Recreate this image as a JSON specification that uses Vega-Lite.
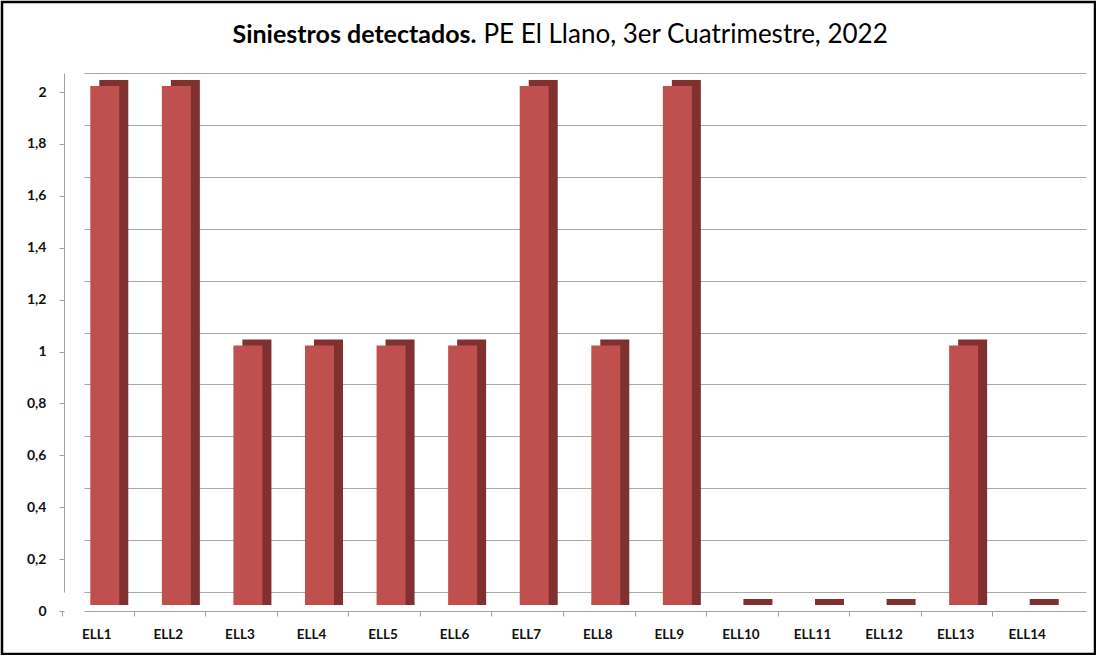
{
  "$schema": "https://vega.github.io/schema/vega-lite/v6.json",
  "width": 1093,
  "height": 652,
  "autosize": "none",
  "padding": {"left": 2, "top": 2, "right": 1, "bottom": 1},
  "background": "white",
  "config": {
    "view": {"stroke": "black", "strokeWidth": 2.5},
    "font": "Lato"
  },
  "data": {
    "values": [
      {"estacion": "ELL1", "siniestros": 2},
      {"estacion": "ELL2", "siniestros": 2},
      {"estacion": "ELL3", "siniestros": 1},
      {"estacion": "ELL4", "siniestros": 1},
      {"estacion": "ELL5", "siniestros": 1},
      {"estacion": "ELL6", "siniestros": 1},
      {"estacion": "ELL7", "siniestros": 2},
      {"estacion": "ELL8", "siniestros": 1},
      {"estacion": "ELL9", "siniestros": 2},
      {"estacion": "ELL10", "siniestros": 0},
      {"estacion": "ELL11", "siniestros": 0},
      {"estacion": "ELL12", "siniestros": 0},
      {"estacion": "ELL13", "siniestros": 1},
      {"estacion": "ELL14", "siniestros": 0}
    ]
  },
  "layer": [
    {
      "mark": {"type": "bar", "width": 29, "xOffset": -6, "yOffset": 7, "y2Offset": 13, "color": "#80302E"},
      "encoding": {
        "x": {
          "field": "estacion", "type": "nominal", "sort": null,
          "scale": {"range": [82, 1084], "paddingInner": 0, "paddingOuter": 0},
          "axis": {
            "orient": "top", "labels": false, "ticks": false, "domain": false, "grid": false,
            "title": "PE El Llano, 3er Cuatrimestre, 2022",
            "titleX": 481, "titleY": 40, "titleAlign": "left", "titleBaseline": "alphabetic",
            "titleFontSize": 26, "titleFontWeight": "normal", "titleFont": "Lato", "titleColor": "black"
          }
        },
        "y": {
          "field": "siniestros", "type": "quantitative", "stack": null,
          "scale": {"domain": [0, 2], "range": [590, 71], "nice": false},
          "axis": {
            "orient": "left", "grid": true, "gridColor": "#A8A8A8", "gridWidth": 1,
            "labels": false, "ticks": false, "domain": false,
            "values": [0, 0.2, 0.4, 0.6, 0.8, 1, 1.2, 1.4, 1.6, 1.8, 2],
            "title": "Siniestros detectados.", "titleAngle": 0,
            "titleX": 230, "titleY": 40, "titleAlign": "left", "titleBaseline": "alphabetic",
            "titleFontSize": 25, "titleFontWeight": "bold", "titleFont": "Lato", "titleColor": "black"
          }
        },
        "y2": {"datum": 0}
      }
    },
    {
      "mark": {"type": "bar", "width": 29, "xOffset": -15, "yOffset": 13, "y2Offset": 13, "color": "#C0504D"},
      "encoding": {
        "x": {
          "field": "estacion", "type": "nominal", "sort": null,
          "axis": {
            "orient": "bottom", "offset": -43, "bandPosition": 0, "tickOffset": -22, "labelOffset": -1.5,
            "tickSize": 5, "tickColor": "#A0A0A0", "domainColor": "#A0A0A0", "grid": false,
            "labelAngle": 0, "labelFontSize": 13.5, "labelFontWeight": "bold", "labelColor": "#111111",
            "labelPadding": 11, "title": null
          }
        },
        "y": {
          "field": "siniestros", "type": "quantitative", "stack": null,
          "axis": {
            "orient": "left", "offset": -62, "grid": false, "tickOffset": 19,
            "values": [0, 0.2, 0.4, 0.6, 0.8, 1, 1.2, 1.4, 1.6, 1.8, 2],
            "format": "~g", "labelExpr": "replace(datum.label, '.', ',')",
            "tickSize": 5, "tickColor": "#A0A0A0", "domainColor": "#A0A0A0",
            "labelFontSize": 14, "labelFontWeight": "bold", "labelColor": "#111111",
            "labelPadding": 13, "title": null
          }
        },
        "y2": {"datum": 0}
      }
    }
  ],
  "resolve": {"axis": {"x": "independent", "y": "independent"}}
}
